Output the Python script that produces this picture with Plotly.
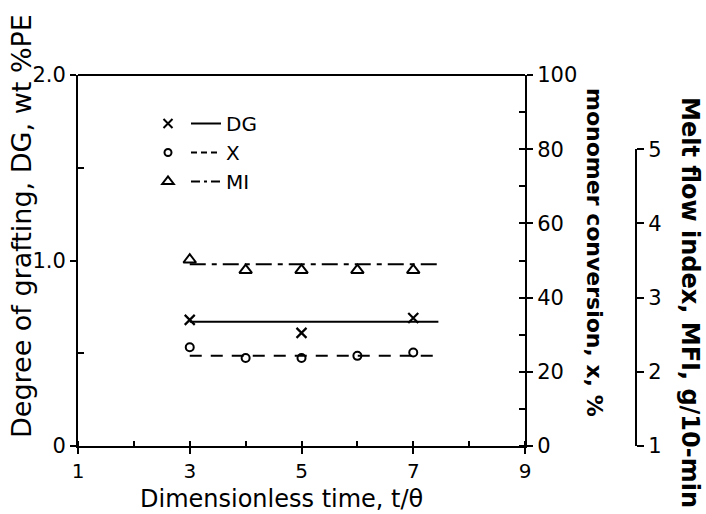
import plotly.graph_objects as go

# ---- data ----
t_dg = [3, 5, 7]
dg_vals = [0.68, 0.61, 0.69]              # degree of grafting, wt % PE (left axis)
t_x = [3, 4, 5, 6, 7]
x_vals = [26.6, 23.7, 23.7, 24.3, 25.2]   # monomer conversion, % (right axis)
t_mi = [3, 4, 5, 6, 7]
mi_vals = [3.51, 3.37, 3.37, 3.37, 3.37]  # melt flow index, g/10-min (outer axis)

fit_t = [3, 7.45]
dg_fit = [0.67, 0.67]
x_fit = [24.3, 24.3]
mi_fit = [3.45, 3.45]

series_names = ["DG", "X", "MI"]
x_ticks = [1, 3, 5, 7, 9]
y_ticks = [0, 1.0, 2.0]
y_ticklabels = ["0", "1.0", "2.0"]
conv_ticks = [0, 20, 40, 60, 80, 100]
mfi_ticks = [1, 2, 3, 4, 5]

FONT = "DejaVu Sans"
BLACK = "black"
W, H = 706, 514
L, R, T, B = 78, 66, 75, 68
PW, PH = W - L - R, H - T - B


def px(xp):
    return (xp - L) / PW


def py(yp):
    return (H - B - yp) / PH


sym = {"DG": ("x-thin-open", 10), "X": ("circle-open", 8), "MI": ("triangle-up-open", 11)}
dash = {"DG": "solid", "X": "12px,9px", "MI": "16px,6px,5px,6px"}
leg_dash = {"DG": "solid", "X": "6px,4px", "MI": "9px,4px,3px,4px"}

fig = go.Figure()

# DG
fig.add_trace(go.Scatter(x=t_dg, y=dg_vals, mode="markers", showlegend=False,
                         marker=dict(symbol=sym["DG"][0], size=sym["DG"][1], color=BLACK,
                                     line=dict(width=2.2, color=BLACK)),
                         xaxis="x", yaxis="y"))
fig.add_trace(go.Scatter(x=fit_t, y=dg_fit, mode="lines", showlegend=False,
                         line=dict(color=BLACK, width=2, dash=dash["DG"]), xaxis="x", yaxis="y"))
# X (conversion)
fig.add_trace(go.Scatter(x=t_x, y=x_vals, mode="markers", showlegend=False,
                         marker=dict(symbol=sym["X"][0], size=sym["X"][1], color=BLACK,
                                     line=dict(width=2, color=BLACK)),
                         xaxis="x", yaxis="y2"))
fig.add_trace(go.Scatter(x=fit_t, y=x_fit, mode="lines", showlegend=False,
                         line=dict(color=BLACK, width=2, dash=dash["X"]), xaxis="x", yaxis="y2"))
# MI
fig.add_trace(go.Scatter(x=t_mi, y=mi_vals, mode="markers", showlegend=False,
                         marker=dict(symbol=sym["MI"][0], size=sym["MI"][1], color=BLACK,
                                     line=dict(width=2, color=BLACK)),
                         xaxis="x", yaxis="y3"))
fig.add_trace(go.Scatter(x=fit_t, y=mi_fit, mode="lines", showlegend=False,
                         line=dict(color=BLACK, width=2, dash=dash["MI"]), xaxis="x", yaxis="y3"))

# legend: marker column (legend) and line+name column (legend2)
for name in series_names:
    fig.add_trace(go.Scatter(x=[None], y=[None], mode="markers", name=" ", legend="legend",
                             marker=dict(symbol=sym[name][0], size=sym[name][1] - 1, color=BLACK,
                                         line=dict(width=2, color=BLACK)),
                             xaxis="x", yaxis="y"))
    fig.add_trace(go.Scatter(x=[None], y=[None], mode="lines", name=name, legend="legend2",
                             line=dict(color=BLACK, width=2, dash=leg_dash[name]),
                             xaxis="x", yaxis="y"))

XDOM = 447 / PW
axis_common = dict(showline=True, linecolor=BLACK, linewidth=2, showgrid=False, zeroline=False,
                   tickcolor=BLACK, tickwidth=2, automargin=False,
                   tickfont=dict(family=FONT, size=21, color=BLACK))

legend_common = dict(xanchor="left", yanchor="top", bgcolor="rgba(0,0,0,0)",
                     font=dict(family=FONT, size=20, color=BLACK), itemwidth=30,
                     tracegroupgap=0, traceorder="normal", y=py(104))

fig.update_layout(
    width=W, height=H,
    margin=dict(l=L, r=R, t=T, b=B, autoexpand=False),
    paper_bgcolor="white", plot_bgcolor="rgba(0,0,0,0)",
    font=dict(family=FONT, color=BLACK),
    xaxis=dict(domain=[0, XDOM], range=[1, 9], tickvals=x_ticks, ticks="outside", ticklen=6,
               minor=dict(dtick=1, ticks="inside", ticklen=5, tickcolor=BLACK, tickwidth=2),
               **{**axis_common, "tickfont": dict(family=FONT, size=20, color=BLACK)}),
    yaxis=dict(domain=[0, 1], range=[0, 2.0], tickvals=y_ticks, ticktext=y_ticklabels,
               ticks="outside", ticklen=6,
               minor=dict(tickvals=[0.5, 1.5], ticks="inside", ticklen=6, tickcolor=BLACK, tickwidth=2),
               **axis_common),
    yaxis2=dict(overlaying="y", side="right", anchor="x", range=[0, 100], tickvals=conv_ticks,
                ticks="outside", ticklen=6,
                minor=dict(dtick=10, ticks="inside", ticklen=6, tickcolor=BLACK, tickwidth=2),
                **axis_common),
    yaxis3=dict(domain=[0, 0.8], range=[1, 5], anchor="free", position=px(636), side="right",
                tickvals=mfi_ticks, ticks="outside", ticklen=7, **axis_common),
    legend=dict(x=px(148), **legend_common),
    legend2=dict(x=px(186), **legend_common),
)

# top border of the frame
fig.add_shape(type="line", xref="paper", yref="paper", x0=0, x1=XDOM, y0=1, y1=1,
              line=dict(color=BLACK, width=2))

# axis titles
title_common = dict(xref="paper", yref="paper", showarrow=False, xanchor="center", yanchor="middle")
fig.add_annotation(text="Degree of grafting, DG, wt %PE", x=px(21), y=py(226), textangle=-90,
                   font=dict(family=FONT, size=27, color=BLACK), **title_common)
fig.add_annotation(text="Dimensionless time, t/θ", x=px(281), y=py(499),
                   font=dict(family=FONT, size=24, color=BLACK), **title_common)
fig.add_annotation(text="<b>monomer conversion, x, %</b>", x=px(595), y=py(252), textangle=90,
                   font=dict(family=FONT, size=22, color=BLACK), **title_common)
fig.add_annotation(text="<b>Melt flow index, MFI, g/10-min</b>", x=px(690), y=py(302), textangle=90,
                   font=dict(family=FONT, size=24, color=BLACK), **title_common)

fig.write_html("out.html", config={"displayModeBar": False},
               post_script="document.body.style.margin='0';document.body.style.overflow='hidden';")
